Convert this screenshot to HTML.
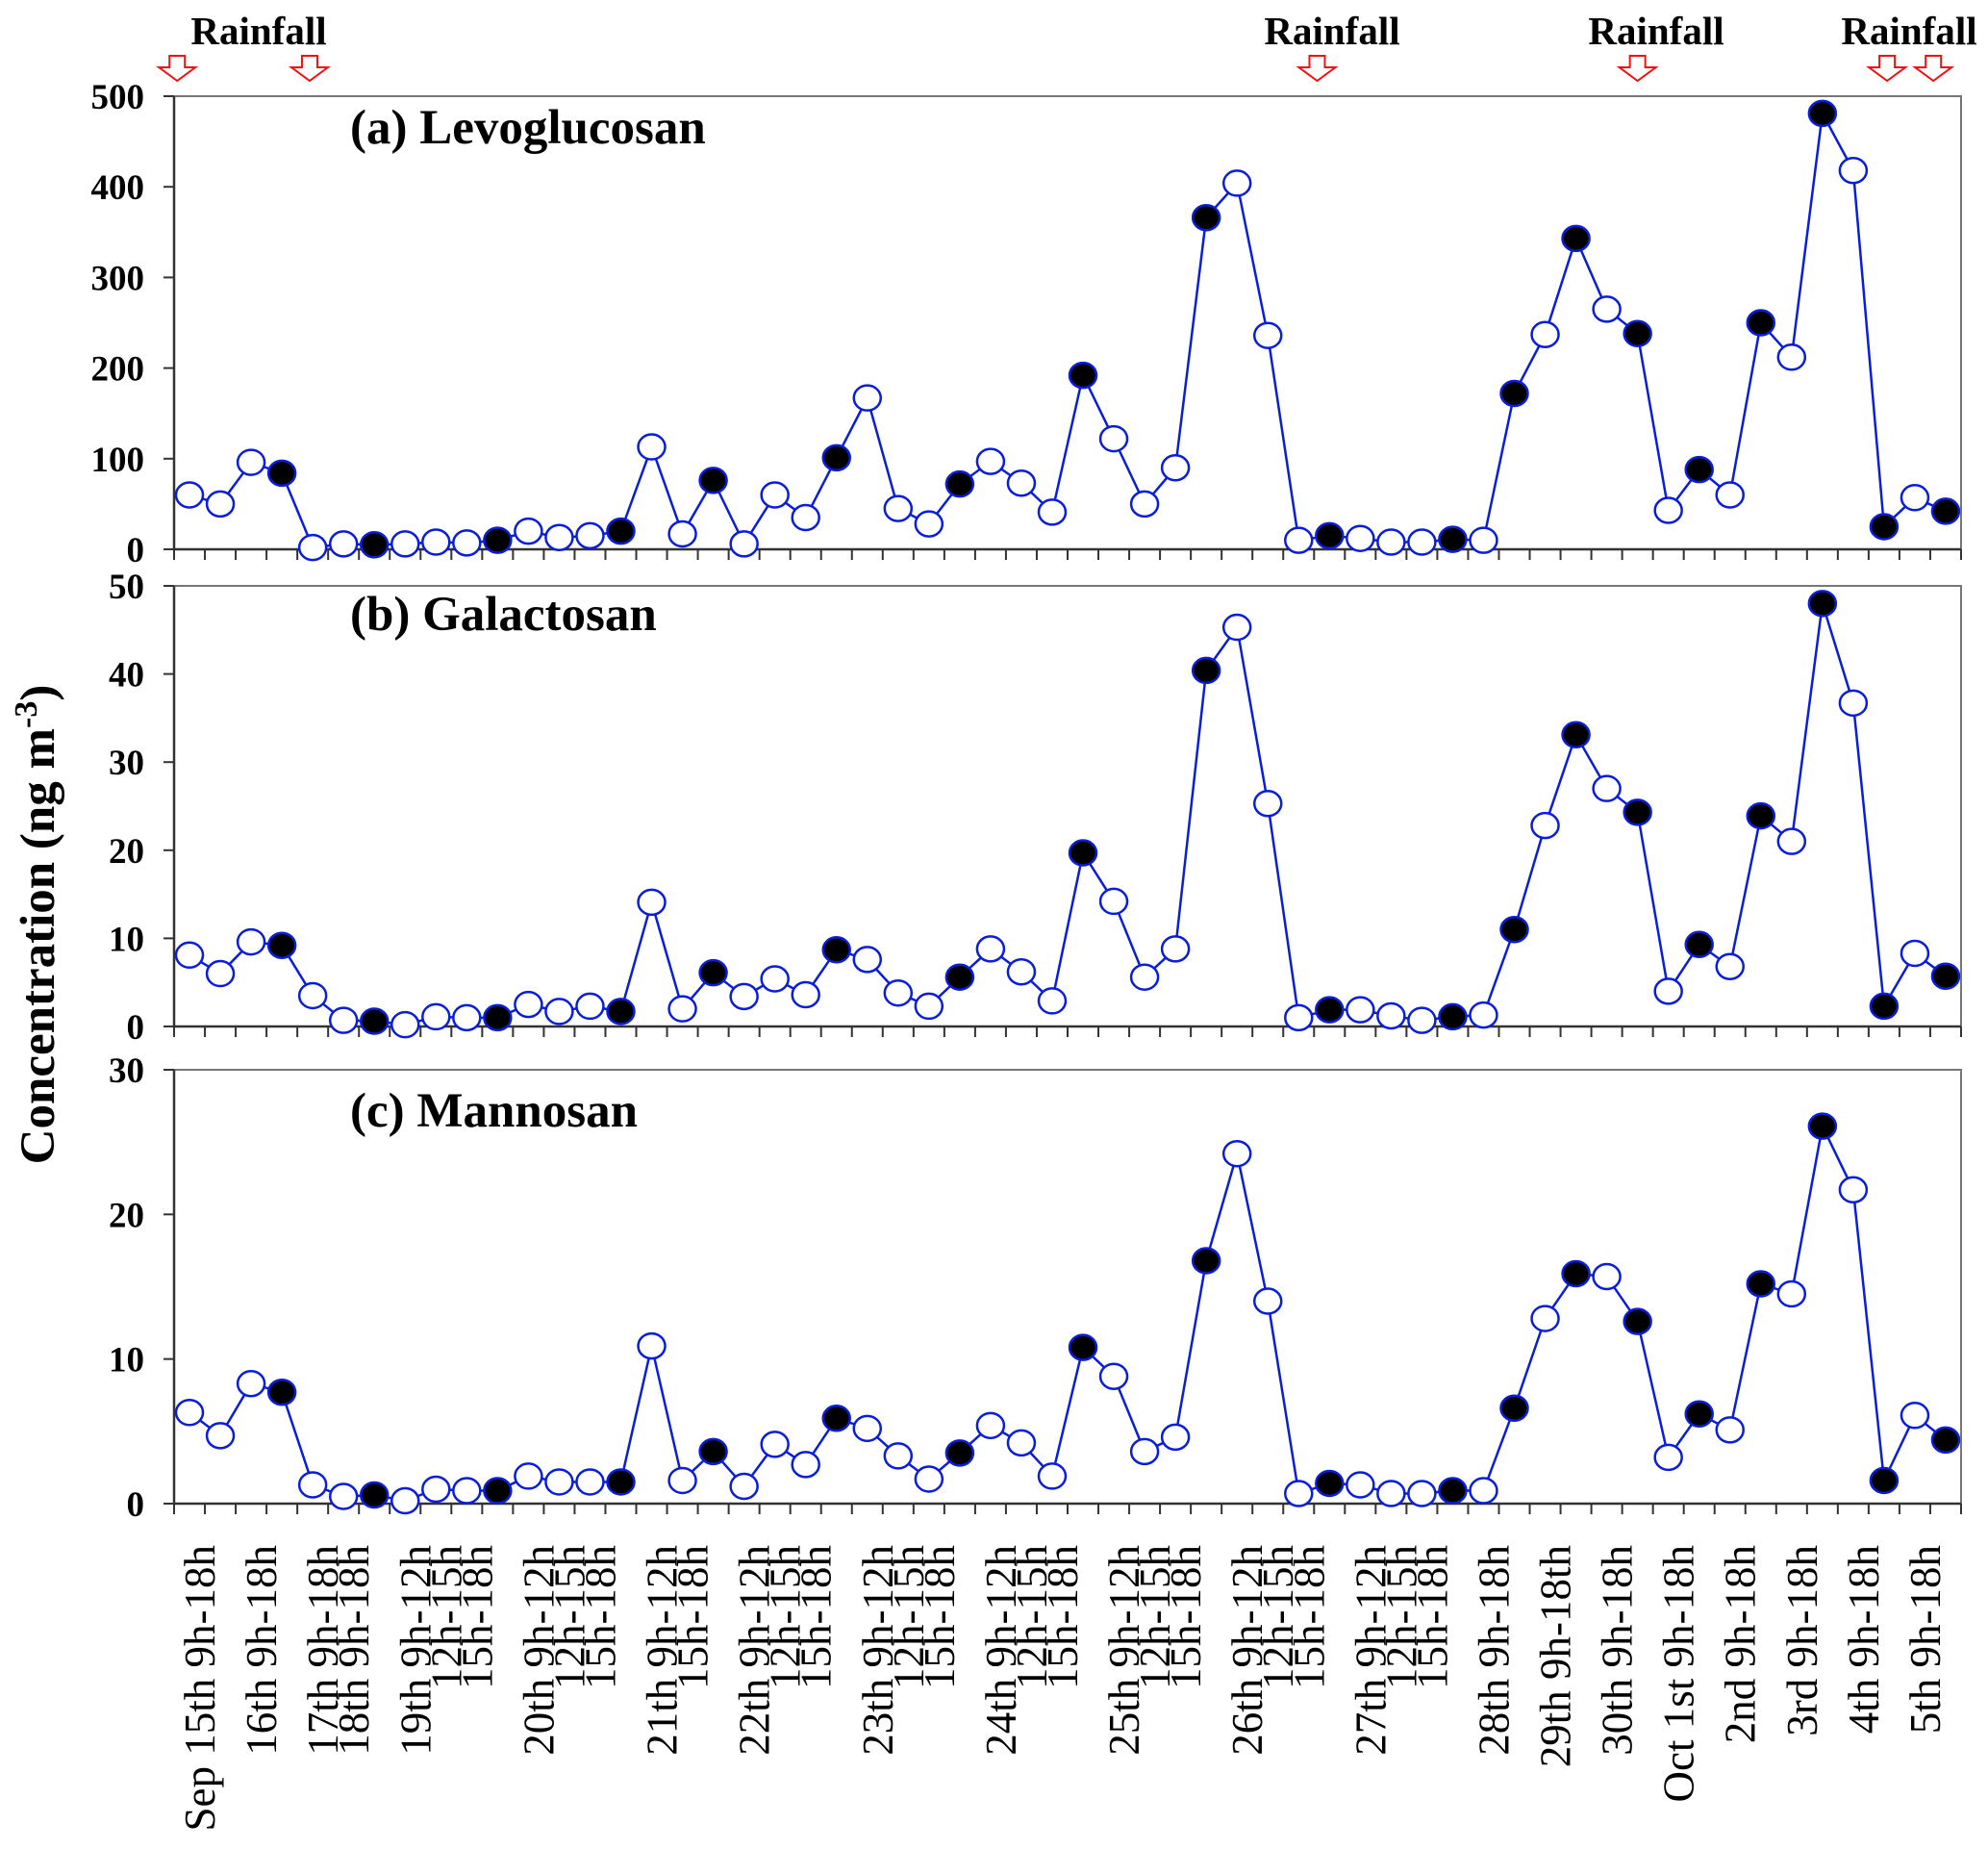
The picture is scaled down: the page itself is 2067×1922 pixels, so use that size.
<!DOCTYPE html>
<html><head><meta charset="utf-8"><style>
html,body{margin:0;padding:0;background:#fff;}
svg{display:block;font-family:"Liberation Serif",serif;}
</style></head><body>
<svg id="chart" width="2067" height="1922" viewBox="0 0 2067 1922" xmlns="http://www.w3.org/2000/svg"></svg>
<script>
const levoglucosan=[60,50,96,84,2,6,5,6,8,7,10,20,13,15,20,113,17,76,6,60,35,101,167,45,28,72,97,73,41,192,122,50,90,366,404,236,10,15,12,8,8,11,10,172,237,343,265,238,43,88,60,250,212,481,418,25,57,42];
const galactosan=[8.1,6,9.6,9.2,3.5,0.7,0.6,0.2,1.1,1.0,1.0,2.5,1.7,2.3,1.7,14.1,2.0,6.1,3.4,5.4,3.6,8.7,7.6,3.8,2.3,5.6,8.8,6.2,2.9,19.7,14.2,5.6,8.8,40.4,45.3,25.3,1.0,1.9,1.9,1.2,0.7,1.1,1.3,11.0,22.8,33.1,27.0,24.3,4.0,9.3,6.8,23.9,21.0,48.0,36.7,2.3,8.3,5.7];
const mannosan=[6.3,4.7,8.3,7.7,1.3,0.5,0.6,0.2,1.0,0.9,0.9,1.9,1.5,1.5,1.5,10.9,1.6,3.6,1.2,4.1,2.7,5.9,5.2,3.3,1.7,3.5,5.4,4.2,1.9,10.8,8.8,3.6,4.6,16.8,24.2,14.0,0.7,1.4,1.3,0.7,0.7,0.9,0.9,6.6,12.8,15.9,15.7,12.6,3.2,6.2,5.1,15.2,14.5,26.1,21.7,1.6,6.1,4.4];
const nightIdx=[3,6,10,14,17,21,25,29,33,37,41,43,45,47,49,51,53,55,57];
const categories=["Sep 15th 9h-18h","","16th 9h-18h","","17th 9h-18h","18th 9h-18h","","19th 9h-12h","12h-15h","15h-18h","","20th 9h-12h","12h-15h","15h-18h","","21th 9h-12h","15h-18h","","22th 9h-12h","12h-15h","15h-18h","","23th 9h-12h","12h-15h","15h-18h","","24th 9h-12h","12h-15h","15h-18h","","25th 9h-12h","12h-15h","15h-18h","","26th 9h-12h","12h-15h","15h-18h","","27th 9h-12h","12h-15h","15h-18h","","28th 9h-18h","","29th 9h-18th","","30th 9h-18h","","Oct 1st 9h-18h","","2nd 9h-18h","","3rd 9h-18h","","4th 9h-18h","","5th 9h-18h",""];
const ticksA=[0,100,200,300,400,500];
const ticksB=[0,10,20,30,40,50];
const ticksC=[0,10,20,30];
const rainIdx=[-0.4,3.9,36.6,47.0,55.1,56.6];

const svg=document.getElementById('chart');
const NS='http://www.w3.org/2000/svg';
function mk(tag,attrs,parent){const e=document.createElementNS(NS,tag);for(const k in attrs)e.setAttribute(k,attrs[k]);(parent||svg).appendChild(e);return e;}
const X0=181,X1=2039,N=categories.length,step=(X1-X0)/N;
function xs(i){return X0+step*(i+0.5);}
const panels=[
 {name:'levoglucosan',title:'(a) Levoglucosan',data:levoglucosan,ticks:ticksA,max:500,top:100,bot:571,ty:149},
 {name:'galactosan',title:'(b) Galactosan',data:galactosan,ticks:ticksB,max:50,top:609,bot:1067,ty:655},
 {name:'mannosan',title:'(c) Mannosan',data:mannosan,ticks:ticksC,max:30,top:1112,bot:1563,ty:1171}
];
panels.forEach(p=>{
 const g=mk('g',{});
 
 
 const ys=v=>p.bot-(v/p.max)*(p.bot-p.top);
 const frame=mk('path',{d:`M${X0} ${p.top}H${X1}V${p.bot}`,fill:'none',stroke:'#777','stroke-width':2},g);
 
 
 const ax=mk('path',{d:`M${X0} ${p.top}V${p.bot}H${X1}`,fill:'none',stroke:'#333','stroke-width':2.5},g);
 
 
 for(let i=0;i<=N;i++){const x=X0+step*i;const t=mk('line',{x1:x,x2:x,y1:p.bot,y2:p.bot+11,stroke:'#333','stroke-width':2},g);
  
  }
 p.ticks.forEach(v=>{const y=ys(v);
  const t=mk('line',{x1:X0-11,x2:X0,y1:y,y2:y,stroke:'#333','stroke-width':2},g);
  
  
  const l=mk('text',{x:150,y:y+13,'text-anchor':'end','font-size':37,'font-weight':'bold'},g);l.textContent=v;
  
  });
 const tt=mk('text',{x:364,y:p.ty,'font-size':51,'font-weight':'bold'},g);tt.textContent=p.title;
 
 
 const pts=p.data.map((v,i)=>xs(i)+','+ys(v)).join(' ');
 const line=mk('polyline',{points:pts,fill:'none',stroke:'#0a1ed8','stroke-width':2.5},g);
 
 
 p.data.forEach((v,i)=>{const night=nightIdx.includes(i);
  const c=mk('ellipse',{cx:xs(i),cy:ys(v),rx:14,ry:13,fill:night?'#000':'#fff',stroke:'#0a1ed8','stroke-width':2.5},g);
  
  });
});
categories.forEach((c,i)=>{if(!c)return;const x=xs(i)+26;
 const t=mk('text',{x:0,y:0,transform:`translate(${x},1606) rotate(-90)`,'text-anchor':'end','font-size':45},svg);t.textContent=c;
 
 });
const yt=mk('text',{x:0,y:0,transform:'translate(56,961) rotate(-90)','text-anchor':'middle','font-size':51,'font-weight':'bold'});
yt.innerHTML='Concentration (ng m<tspan baseline-shift="super" font-size="34">-3</tspan>)';


[269,1385,1722,1985].forEach(x=>{const t=mk('text',{x:x,y:46,'text-anchor':'middle','font-size':41,'font-weight':'bold'});t.textContent='Rainfall';
 
 });
rainIdx.forEach(r=>{const x=xs(r);
 const a=mk('path',{d:`M${x-8} 58H${x+8}V70H${x+19}L${x} 84L${x-19} 70H${x-8}Z`,fill:'#fff',stroke:'#f01010','stroke-width':2});
 
 });
</script>
</body></html>
